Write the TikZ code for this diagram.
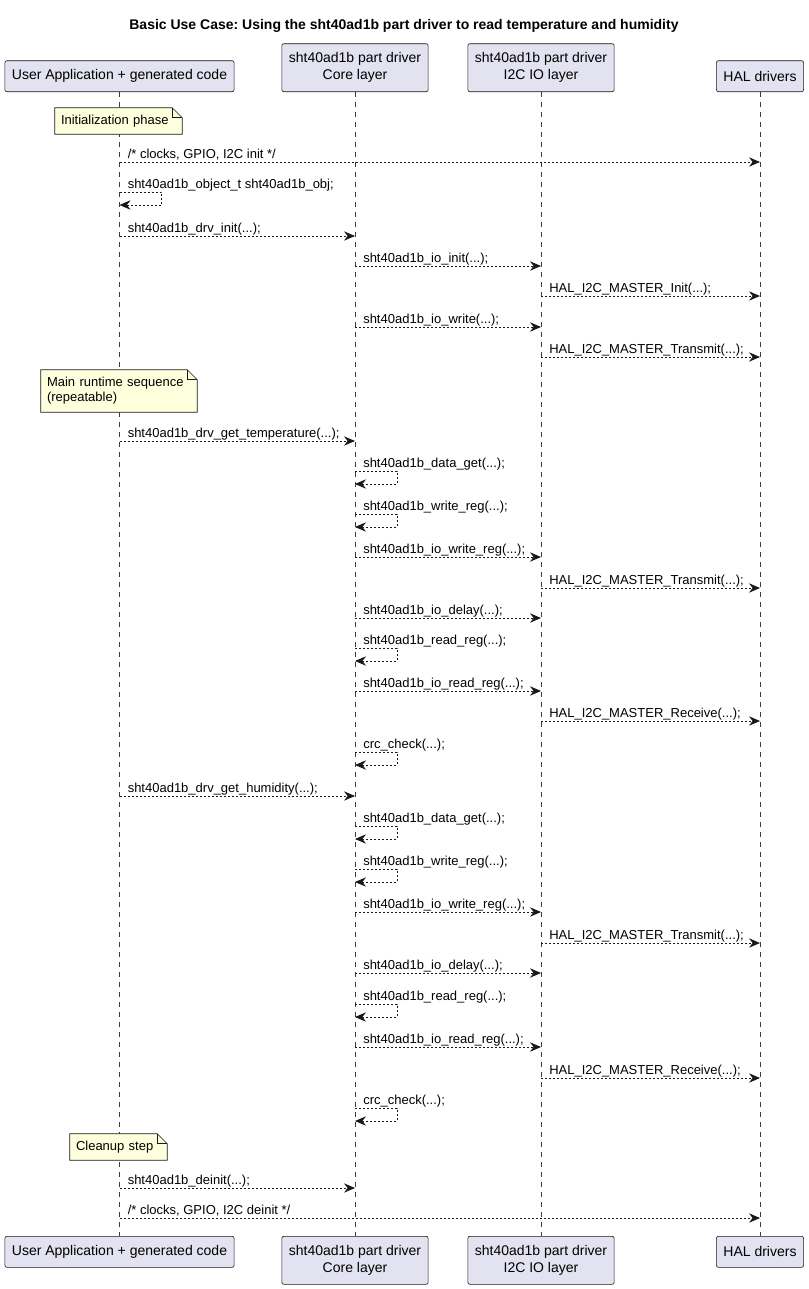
\documentclass[tikz,border=0pt]{standalone}
\usepackage{fontspec}
\setmainfont{Liberation Sans}
\frenchspacing
\usetikzlibrary{arrows.meta,calc}

\definecolor{partfill}{HTML}{E2E2F0}
\definecolor{partline}{HTML}{181818}
\definecolor{notefill}{HTML}{FEFFDD}

\pgfdeclarelayer{paper}
\pgfdeclarelayer{lines}
\pgfdeclarelayer{notes}
\pgfsetlayers{paper,lines,notes,main}

\tikzset{
  part/.style={draw=partline,fill=partfill,rounded corners=1.5pt,line width=0.45pt,
    inner xsep=5.25pt,inner ysep=2pt,minimum height=23.25pt,align=center,
    font=\fontsize{10.5}{12.6}\selectfont},
  parttwo/.style={part,minimum height=36pt},
  lifeline/.style={draw=partline!85,line width=0.45pt,dash pattern=on 3.75pt off 3.75pt},
  msgline/.style={draw=partline,line width=0.5pt,dash pattern=on 1.5pt off 1.5pt,
    -{Stealth[length=8.25pt,width=7pt,inset=2.75pt,line width=0.7pt]}},
  msglabel/.style={anchor=base west,inner sep=0pt,font=\fontsize{9.75}{11.7}\selectfont},
  note/.style={inner xsep=4.5pt,inner ysep=0pt,align=left,
    font=\fontsize{9.75}{11.25}\selectfont},
  notebox/.style={draw=partline,fill=notefill,line width=0.45pt},
}

% message between two lifelines: name, y, from, to, text
\newcommand{\callmsg}[5]{%
  \coordinate (#1a) at (#3 |- 0,#2);
  \coordinate (#1b) at (#4 |- 0,#2);
  \draw[msgline] (#1a) -- (#1b);
  \node[msglabel] (#1t) at ($(#1a)+(8,-4)$) {#5};
}
% message to itself: name, y, who, text
\newcommand{\selfmsg}[4]{%
  \coordinate (#1a) at (#3 |- 0,#2);
  \coordinate (#1b) at (#3 |- 0,#2+13);
  \draw[msgline] (#1a) -- ++(42,0) -- ++(0,13) -- (#1b);
  \node[msglabel] (#1t) at ($(#1a)+(8,-4)$) {#4};
}
% folded note outline behind a note node
\newcommand{\notefold}[1]{%
  \begin{pgfonlayer}{notes}
    \draw[notebox] (#1.south west) -- (#1.north west) -- ([xshift=-7.5pt]#1.north east)
      -- ([yshift=-7.5pt]#1.north east) -- (#1.south east) -- cycle;
    \draw[partline,line width=0.45pt] ([xshift=-7.5pt]#1.north east)
      -- ([xshift=-7.5pt,yshift=-7.5pt]#1.north east) -- ([yshift=-7.5pt]#1.north east);
  \end{pgfonlayer}
}

\begin{document}
\begin{tikzpicture}[x=0.75pt,y=-0.75pt]
  \begin{pgfonlayer}{paper}
    \fill[white] (0,0) rectangle (808,1289);
  \end{pgfonlayer}
  \useasboundingbox (0,0) rectangle (808,1289);

  \node[font=\bfseries\fontsize{10.5}{12.6}\selectfont] (title) at (404,26)
    {Basic Use Case: Using the sht40ad1b part driver to read temperature and humidity};

  % participants
  \node[part,anchor=south] (ua) at (119.5,92) {User Application + generated code};
  \node[parttwo,anchor=south] (core) at (355,92) {sht40ad1b part driver\\Core layer};
  \node[parttwo,anchor=south] (io) at (541,92) {sht40ad1b part driver\\I2C IO layer};
  \node[part,anchor=south] (hal) at (760,92) {HAL drivers};

  \node[part,anchor=north] (uab) at (119.5,1236) {User Application + generated code};
  \node[parttwo,anchor=north] (coreb) at (355,1236) {sht40ad1b part driver\\Core layer};
  \node[parttwo,anchor=north] (iob) at (541,1236) {sht40ad1b part driver\\I2C IO layer};
  \node[part,anchor=north] (halb) at (760,1236) {HAL drivers};

  \begin{pgfonlayer}{lines}
    \draw[lifeline] (ua) -- (uab);
    \draw[lifeline] (core) -- (coreb);
    \draw[lifeline] (io) -- (iob);
    \draw[lifeline] (hal) -- (halb);
  \end{pgfonlayer}

  % init
  \node[note,text width=86.25pt,minimum height=19.5pt] (ninit) at (118.5,121) {Initialization phase};
  \notefold{ninit}
  \callmsg{m1}{162}{ua}{hal}{/* clocks, GPIO, I2C init */}
  \selfmsg{m2}{192}{ua}{sht40ad1b\_object\_t sht40ad1b\_obj;}
  \callmsg{m3}{236}{ua}{core}{sht40ad1b\_drv\_init(...);}
  \callmsg{m4}{266}{core}{io}{sht40ad1b\_io\_init(...);}
  \callmsg{m5}{296}{io}{hal}{HAL\_I2C\_MASTER\_Init(...);}
  \callmsg{m6}{327}{core}{io}{sht40ad1b\_io\_write(...);}
  \callmsg{m7}{357}{io}{hal}{HAL\_I2C\_MASTER\_Transmit(...);}

  % runtime
  \node[note,text width=108pt,minimum height=31.5pt] (nrun) at (119,391) {Main runtime sequence\\(repeatable)};
  \notefold{nrun}
  \callmsg{m8}{441}{ua}{core}{sht40ad1b\_drv\_get\_temperature(...);}
  \selfmsg{m9}{471}{core}{sht40ad1b\_data\_get(...);}
  \selfmsg{m10}{514}{core}{sht40ad1b\_write\_reg(...);}
  \callmsg{m11}{557}{core}{io}{sht40ad1b\_io\_write\_reg(...);}
  \callmsg{m12}{588}{io}{hal}{HAL\_I2C\_MASTER\_Transmit(...);}
  \callmsg{m13}{618}{core}{io}{sht40ad1b\_io\_delay(...);}
  \selfmsg{m14}{648}{core}{sht40ad1b\_read\_reg(...);}
  \callmsg{m15}{691}{core}{io}{sht40ad1b\_io\_read\_reg(...);}
  \callmsg{m16}{721}{io}{hal}{HAL\_I2C\_MASTER\_Receive(...);}
  \selfmsg{m17}{752}{core}{crc\_check(...);}
  \callmsg{m18}{796}{ua}{core}{sht40ad1b\_drv\_get\_humidity(...);}
  \selfmsg{m19}{826}{core}{sht40ad1b\_data\_get(...);}
  \selfmsg{m20}{869}{core}{sht40ad1b\_write\_reg(...);}
  \callmsg{m21}{912}{core}{io}{sht40ad1b\_io\_write\_reg(...);}
  \callmsg{m22}{943}{io}{hal}{HAL\_I2C\_MASTER\_Transmit(...);}
  \callmsg{m23}{973}{core}{io}{sht40ad1b\_io\_delay(...);}
  \selfmsg{m24}{1004}{core}{sht40ad1b\_read\_reg(...);}
  \callmsg{m25}{1047}{core}{io}{sht40ad1b\_io\_read\_reg(...);}
  \callmsg{m26}{1078}{io}{hal}{HAL\_I2C\_MASTER\_Receive(...);}
  \selfmsg{m27}{1108}{core}{crc\_check(...);}

  % cleanup
  \node[note,text width=63.75pt,minimum height=19.5pt] (nend) at (118.5,1147) {Cleanup step};
  \notefold{nend}
  \callmsg{m28}{1188}{ua}{core}{sht40ad1b\_deinit(...);}
  \callmsg{m29}{1218}{ua}{hal}{/* clocks, GPIO, I2C deinit */}
\end{tikzpicture}
\end{document}
